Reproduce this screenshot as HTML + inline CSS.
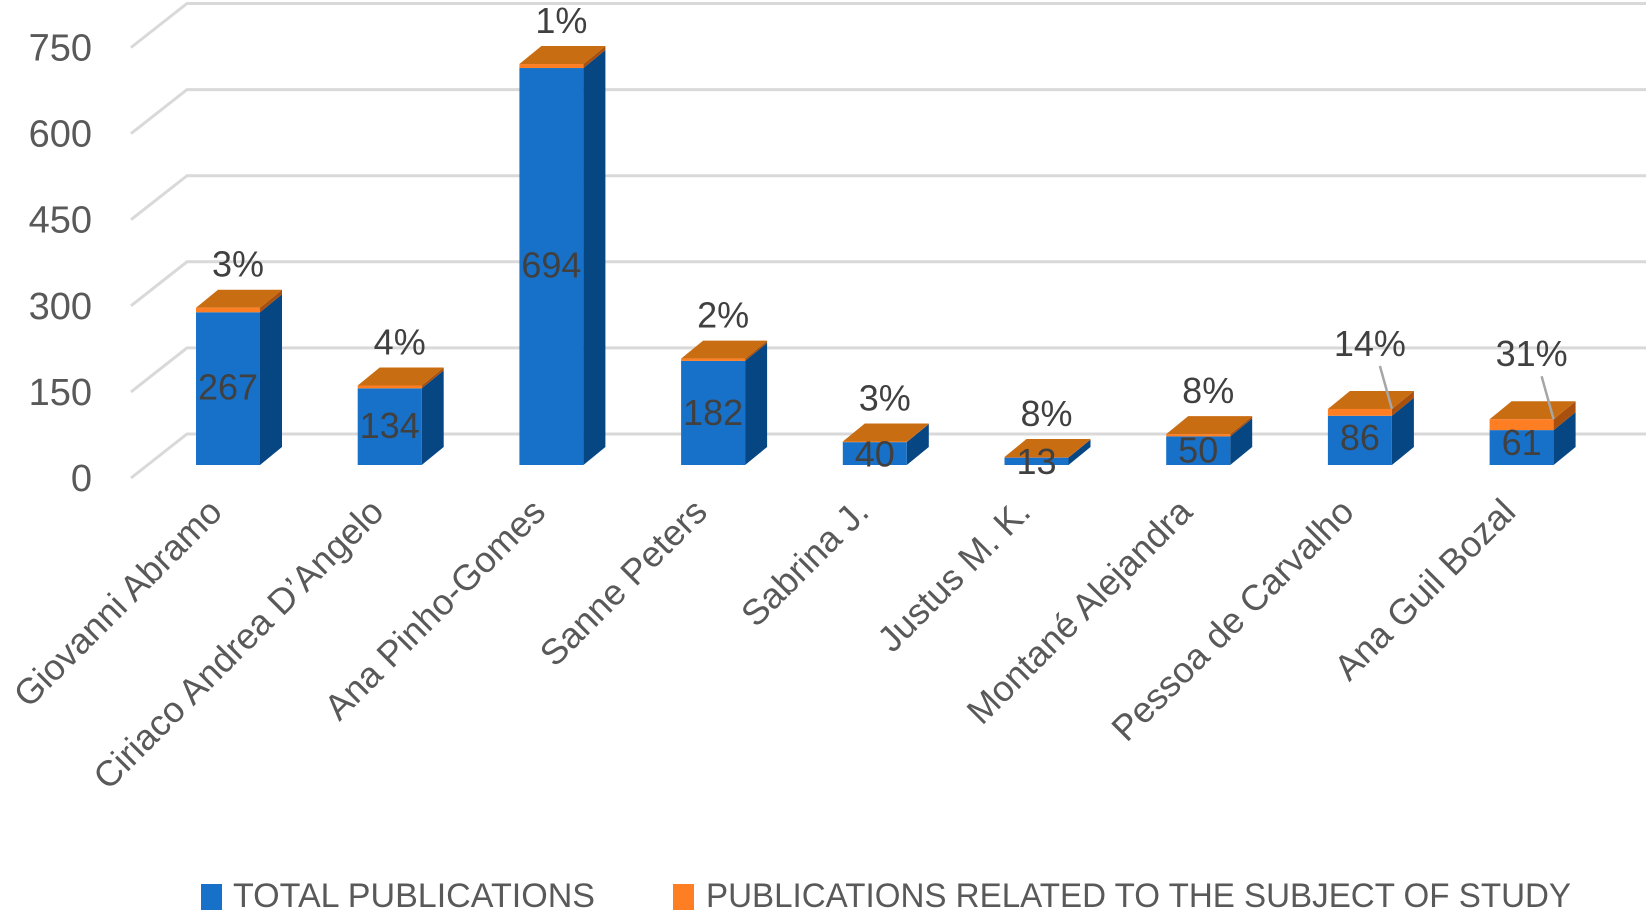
<!DOCTYPE html>
<html><head><meta charset="utf-8"><style>
html,body{margin:0;padding:0;background:#fff;}
svg{display:block;font-family:"Liberation Sans",sans-serif;}
</style></head><body>
<svg id="chart" width="1646" height="910" viewBox="0 0 1646 910">
<g id="grid"></g><g id="yticks"></g><g id="bars"></g><g id="xlabels"></g>
<g>
 <rect x="201" y="884" width="21" height="26" fill="#1771c8"/>
 <text x="233" y="907" font-size="34" fill="#595959" textLength="362" lengthAdjust="spacingAndGlyphs">TOTAL PUBLICATIONS</text>
 <rect x="673" y="884" width="21" height="26" fill="#fd7e23"/>
 <text x="706" y="907" font-size="34" fill="#595959" textLength="865" lengthAdjust="spacingAndGlyphs">PUBLICATIONS RELATED TO THE SUBJECT OF STUDY</text>
</g>
</svg>
<script>
const categories=["Giovanni Abramo","Ciriaco Andrea D’Angelo","Ana Pinho-Gomes","Sanne Peters","Sabrina J.","Justus M. K.","Montané Alejandra","Pessoa de Carvalho","Ana Guil Bozal"];
const totals=[267,134,694,182,40,13,50,86,61];
const related=[8,5,7,4,1,1,4,12,19];
const pctLabels=["3%","4%","1%","2%","3%","8%","8%","14%","31%"];
const yTicks=[0,150,300,450,600,750];

const NS="http://www.w3.org/2000/svg";
function mk(tag,attrs,parent){const e=document.createElementNS(NS,tag);for(const k in attrs)e.setAttribute(k,attrs[k]);parent.appendChild(e);return e;}
const baseY=465,k=0.572,dx=22,dy=-18;
const gFront=478,gBack=434,gk=0.574;
function yFront(v){return baseY-v*k;}
function xBar(i){return 196+i*161.7;}
const bw=64;
const grid=document.getElementById('grid'),yt=document.getElementById('yticks');
yTicks.forEach(t=>{
 const yb=gBack-t*gk, yf=gFront-t*gk;
 const p=mk('polyline',{points:`131,${yf} 187,${yb} 1646,${yb}`,fill:'none',stroke:'#d9d9d9','stroke-width':3},grid);
 
 
 const tx=mk('text',{x:92,y:yf+13,'text-anchor':'end','font-size':38,fill:'#595959'},yt);
 tx.textContent=t;
 
 
});
const bars=document.getElementById('bars'),xl=document.getElementById('xlabels');
categories.forEach((c,i)=>{
 const x=xBar(i),yb=yFront(0),yt1=yFront(totals[i]),yt2=yFront(totals[i]+related[i]);
 const g=mk('g',{},bars);
 
 
 mk('polygon',{points:`${x+bw},${yb} ${x+bw+dx},${yb+dy} ${x+bw+dx},${yt1+dy} ${x+bw},${yt1}`,fill:'#064683'},g);
 mk('polygon',{points:`${x+bw},${yt1} ${x+bw+dx},${yt1+dy} ${x+bw+dx},${yt2+dy} ${x+bw},${yt2}`,fill:'#a9500f'},g);
 mk('polygon',{points:`${x},${yt2} ${x+dx},${yt2+dy} ${x+bw+dx},${yt2+dy} ${x+bw},${yt2}`,fill:'#c96d12'},g);
 const fb=mk('rect',{x:x,y:yt1,width:bw,height:yb-yt1,fill:'#1771c8'},g);
 
 
 const fo=mk('rect',{x:x,y:yt2,width:bw,height:yt1-yt2,fill:'#fd7e23'},g);
 
 
 const vl=mk('text',{x:x+bw/2,y:(yt2+yb)/2+13,'text-anchor':'middle','font-size':36,fill:'#404040'},g);
 vl.textContent=totals[i];
 
 
 let py=yt2+dy-13;
 if(related[i]>=10){
  py=yt2+dy-35;
  const ll=mk('line',{x1:x+bw/2+20,y1:py+10,x2:x+bw,y2:yt2,stroke:'#a6a6a6','stroke-width':2.5},g);
  
  
 }
 const pl=mk('text',{x:x+bw/2+10,y:py,'text-anchor':'middle','font-size':36,fill:'#404040'},g);
 pl.textContent=pctLabels[i];
 
 
 const cx=x+bw/2-4,cy=514;
 const lb=mk('text',{x:cx,y:cy,'text-anchor':'end','font-size':36,fill:'#595959',transform:`rotate(-45 ${cx} ${cy})`},xl);
 lb.textContent=c;
 
 
});
</script>
</body></html>
